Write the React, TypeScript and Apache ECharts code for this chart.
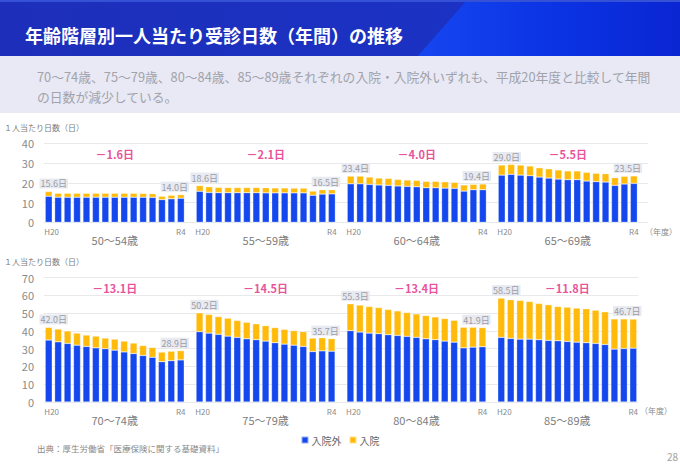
import React, { useEffect, useRef } from "react";
import * as echarts from "echarts";

// ---- data ----
const years = ["H20", "H21", "H22", "H23", "H24", "H25", "H26", "H27", "H28", "H29", "H30", "R1", "R2", "R3", "R4"];
const topGroups = ["50～54歳", "55～59歳", "60～64歳", "65～69歳"];
const bottomGroups = ["70～74歳", "75～79歳", "80～84歳", "85～89歳"];

// 入院外 (outpatient) / 入院 (inpatient), days per person per year
const out50_54 = [13.2, 12.7, 12.7, 12.7, 12.7, 12.7, 12.7, 12.7, 12.7, 12.7, 12.7, 12.6, 11.5, 11.9, 12.2];
const in50_54 = [2.4, 2.0, 2.0, 2.0, 2.0, 2.0, 2.0, 2.0, 2.0, 2.0, 1.9, 1.9, 1.7, 1.8, 1.8];
const out55_59 = [15.7, 15.1, 15.0, 15.0, 15.0, 15.0, 15.0, 14.9, 14.9, 14.9, 14.9, 14.9, 13.7, 14.3, 14.4];
const in55_59 = [2.9, 2.9, 2.7, 2.6, 2.6, 2.6, 2.6, 2.6, 2.5, 2.5, 2.4, 2.4, 2.1, 2.2, 2.1];
const out60_64 = [19.5, 19.5, 19.2, 18.9, 18.7, 18.4, 18.2, 18.0, 17.5, 17.5, 17.3, 17.2, 15.8, 16.5, 16.5];
const in60_64 = [3.9, 3.9, 3.7, 3.5, 3.5, 3.3, 3.2, 3.2, 3.2, 3.2, 3.2, 3.0, 3.1, 2.7, 2.9];
const out65_69 = [23.9, 24.3, 23.9, 23.6, 22.9, 22.4, 21.9, 21.6, 21.6, 20.9, 20.6, 20.4, 18.7, 19.4, 19.7];
const in65_69 = [5.1, 5.0, 5.1, 4.9, 4.7, 4.7, 4.6, 4.4, 4.4, 4.4, 4.2, 4.2, 3.9, 3.9, 3.8];
const out70_74 = [34.9, 33.9, 33.0, 32.0, 31.3, 30.5, 30.0, 29.2, 28.2, 27.3, 26.2, 25.2, 22.7, 23.3, 23.7];
const in70_74 = [7.1, 7.2, 7.0, 6.8, 6.4, 6.6, 6.0, 6.2, 6.1, 5.9, 5.6, 5.5, 5.4, 5.3, 5.2];
const out75_79 = [39.6, 38.8, 38.1, 37.1, 36.4, 35.6, 35.1, 34.3, 33.4, 32.6, 32.0, 31.3, 28.4, 28.8, 28.6];
const in75_79 = [10.6, 10.5, 10.0, 10.1, 9.5, 9.3, 8.9, 8.7, 8.5, 8.3, 8.2, 8.3, 7.6, 7.4, 7.1];
const out80_84 = [40.2, 39.4, 38.8, 38.5, 37.9, 37.5, 37.0, 36.4, 35.6, 35.1, 34.3, 33.7, 30.5, 30.9, 31.1];
const in80_84 = [15.1, 15.2, 15.0, 14.7, 14.2, 13.8, 13.4, 13.2, 13.1, 12.8, 12.7, 12.3, 11.6, 11.2, 10.8];
const out85_89 = [36.4, 35.8, 35.4, 35.4, 35.1, 34.7, 34.5, 34.1, 33.7, 33.4, 33.0, 32.4, 29.8, 30.1, 30.3];
const in85_89 = [22.1, 21.8, 21.8, 21.2, 20.4, 20.1, 19.3, 19.3, 19.2, 19.1, 18.7, 18.4, 17.0, 16.7, 16.4];

const topOut = [out50_54, out55_59, out60_64, out65_69];
const topIn = [in50_54, in55_59, in60_64, in65_69];
const bottomOut = [out70_74, out75_79, out80_84, out85_89];
const bottomIn = [in70_74, in75_79, in80_84, in85_89];

const topTicks = [0, 10, 20, 30, 40];
const bottomTicks = [0, 10, 20, 30, 40, 50, 60, 70];

const TITLE = "年齢階層別一人当たり受診日数（年間）の推移";
const SUBTITLE = "70～74歳、75～79歳、80～84歳、85～89歳それぞれの入院・入院外いずれも、平成20年度と比較して年間\nの日数が減少している。";
const Y_TITLE = "１人当たり日数（日）";
const SOURCE = "出典：厚生労働省「医療保険に関する基礎資料」";
const PAGE = "28";
const YEAR_UNIT = "（年度）";

const BLUE = "#1448ee";
const YELLOW = "#ffba0a";
const PINK = "#e4237f";
const FONT = "'Noto Sans CJK JP', 'Noto Sans', sans-serif";
const SLOT = 16; // 15 years + 1 gap

function buildCats(groups: string[], extra: number) {
  const cats: string[] = [];
  groups.forEach((g, gi) => {
    years.forEach((y) => cats.push(g + "-" + y));
    if (gi < groups.length - 1) cats.push("gap" + gi);
  });
  for (let i = 0; i < extra; i++) cats.push("end" + i);
  return cats;
}

function buildOut(outs: number[][], n: number) {
  const d: any[] = [];
  outs.forEach((arr, gi) => {
    arr.forEach((v) => d.push(v));
    if (gi < outs.length - 1) d.push("-");
  });
  while (d.length < n) d.push("-");
  return d;
}

function buildIn(outs: number[][], ins: number[][], n: number) {
  const d: any[] = [];
  ins.forEach((arr, gi) => {
    arr.forEach((v, i) => {
      if (i === 0 || i === arr.length - 1) {
        const total = (outs[gi][i] + v).toFixed(1) + "日";
        d.push({
          value: v,
          label: {
            show: true,
            position: "top",
            distance: 3,
            offset: [i === 0 ? 5 : -6, 0],
            formatter: total,
            color: "#9c9ca4",
            fontSize: 9,
            fontFamily: FONT,
            backgroundColor: "#e8eaf2",
            padding: [1, 1, 0, 1],
          },
        });
      } else d.push(v);
    });
    if (gi < ins.length - 1) d.push("-");
  });
  while (d.length < n) d.push("-");
  return d;
}

function buildDelta(outs: number[][], ins: number[][], yPos: number) {
  return outs.map((arr, gi) => {
    const first = arr[0] + ins[gi][0];
    const last = arr[arr.length - 1] + ins[gi][arr.length - 1];
    return { value: [gi * SLOT + 7, yPos], name: "－" + (first - last).toFixed(1) + "日" };
  });
}

export default function App() {
  const ref = useRef<HTMLDivElement>(null);
  useEffect(() => {
    if (!ref.current) return;
    const chart = echarts.init(ref.current, undefined, { renderer: "svg" });
    const catsTop = buildCats(topGroups, 1);
    const catsBottom = buildCats(bottomGroups, 0);

    const yearLabel = (v: string, idx: number) => {
      const k = idx % SLOT;
      if (k === 0) return "{h|" + years[0] + "}";
      if (k === years.length - 1) return "{r|" + years[years.length - 1] + "}";
      return "";
    };
    const groupLabel = (groups: string[]) => (v: string, idx: number) =>
      idx % SLOT === 7 ? groups[Math.floor(idx / SLOT)] : "";

    const yearAxis = (gi: number, cats: string[]) => ({
      type: "category",
      gridIndex: gi,
      data: cats,
      axisLine: { show: false },
      axisTick: { show: false },
      axisLabel: {
        interval: 0,
        margin: 5,
        formatter: yearLabel,
        rich: {
          h: { fontSize: 8, color: "#8a8a8a", fontFamily: FONT, padding: [0, 0, 0, 6] },
          r: { fontSize: 8, color: "#8a8a8a", fontFamily: FONT },
        },
      },
    });
    const ageAxis = (gi: number, cats: string[], groups: string[]) => ({
      type: "category",
      gridIndex: gi,
      data: cats,
      position: "bottom",
      axisLine: { show: false },
      axisTick: { show: false },
      axisLabel: { interval: 0, margin: 12, fontSize: 11, color: "#7c7c7c", fontFamily: FONT, formatter: groupLabel(groups) },
    });
    const valAxis = (gi: number, ticks: number[]) => ({
      type: "value",
      gridIndex: gi,
      min: ticks[0],
      max: ticks[ticks.length - 1],
      interval: ticks[1] - ticks[0],
      axisLine: { show: false },
      axisTick: { show: false },
      axisLabel: { margin: 10, fontSize: 11, color: "#8a8a8a", fontFamily: FONT },
      splitLine: { lineStyle: { color: "#e9e9ec", width: 1 } },
    });
    const barStyle = (c: string) => ({ color: c, borderColor: "rgba(255,255,255,0.55)", borderWidth: 0.5 });

    const option: any = {
      animation: false,
      textStyle: { fontFamily: FONT },
      grid: [
        { left: 44, top: 143.3, width: 604, height: 79 },
        { left: 44, top: 277.7, width: 594, height: 124.3 },
      ],
      xAxis: [
        yearAxis(0, catsTop),
        ageAxis(0, catsTop, topGroups),
        yearAxis(1, catsBottom),
        ageAxis(1, catsBottom, bottomGroups),
      ],
      yAxis: [valAxis(0, topTicks), valAxis(1, bottomTicks)],
      legend: {
        data: ["入院外", "入院"],
        left: "center",
        top: 435,
        icon: "rect",
        itemWidth: 7,
        itemHeight: 7,
        itemGap: 7,
        padding: 0,
        textStyle: { fontSize: 10, color: "#666", fontFamily: FONT, padding: [0, 0, 0, -2] },
      },
      series: [
        { name: "入院外", type: "bar", stack: "t", xAxisIndex: 0, yAxisIndex: 0, barWidth: 7, itemStyle: barStyle(BLUE), data: buildOut(topOut, catsTop.length) },
        { name: "入院", type: "bar", stack: "t", xAxisIndex: 0, yAxisIndex: 0, barWidth: 7, itemStyle: barStyle(YELLOW), data: buildIn(topOut, topIn, catsTop.length) },
        { name: "入院外", type: "bar", stack: "b", xAxisIndex: 2, yAxisIndex: 1, barWidth: 7, itemStyle: barStyle(BLUE), data: buildOut(bottomOut, catsBottom.length) },
        { name: "入院", type: "bar", stack: "b", xAxisIndex: 2, yAxisIndex: 1, barWidth: 7, itemStyle: barStyle(YELLOW), data: buildIn(bottomOut, bottomIn, catsBottom.length) },
        {
          type: "scatter", xAxisIndex: 0, yAxisIndex: 0, symbolSize: 1, silent: true,
          itemStyle: { color: "rgba(0,0,0,0)" },
          label: { show: true, position: "inside", formatter: "{b}", color: PINK, fontSize: 11, fontWeight: "bold", fontFamily: FONT },
          data: buildDelta(topOut, topIn, 34.5),
        },
        {
          type: "scatter", xAxisIndex: 2, yAxisIndex: 1, symbolSize: 1, silent: true,
          itemStyle: { color: "rgba(0,0,0,0)" },
          label: { show: true, position: "inside", formatter: "{b}", color: PINK, fontSize: 11, fontWeight: "bold", fontFamily: FONT },
          data: buildDelta(bottomOut, bottomIn, 64.4),
        },
      ],
      graphic: [
        {
          type: "rect", z: 0, shape: { x: 0, y: 0, width: 680, height: 56 },
          style: { fill: new echarts.graphic.LinearGradient(0, 0, 1, 0, [{ offset: 0, color: "#1d2fba" }, { offset: 1, color: "#1a33c8" }]) },
        },
        {
          type: "polygon", z: 0, shape: { points: [[467, 0], [680, 0], [680, 56], [418, 56]] },
          style: { fill: new echarts.graphic.LinearGradient(0, 0, 1, 0, [{ offset: 0, color: "#1646f0" }, { offset: 0.5, color: "#0b34e4" }, { offset: 1, color: "#0a26d2" }]) },
        },
        { type: "rect", z: 0, shape: { x: 0, y: 0, width: 680, height: 2 }, style: { fill: "#3552d6" } },
        { type: "rect", z: 0, shape: { x: 0, y: 56, width: 680, height: 57 }, style: { fill: "#e8e9f5" } },
        {
          type: "text", z: 1, x: 25, y: 35,
          style: { text: TITLE, fill: "#ffffff", fontSize: 18, fontWeight: "bold", fontFamily: FONT, verticalAlign: "middle" },
        },
        {
          type: "text", z: 1, x: 37, y: 67,
          style: { text: SUBTITLE, fill: "#a2a2aa", fontSize: 12.8, lineHeight: 19.5, fontFamily: FONT, verticalAlign: "top" },
        },
        { type: "text", z: 1, x: 4, y: 127.5, style: { text: Y_TITLE, fill: "#7a7a7a", fontSize: 8, fontFamily: FONT, verticalAlign: "middle" } },
        { type: "text", z: 1, x: 4, y: 261.7, style: { text: Y_TITLE, fill: "#7a7a7a", fontSize: 8, fontFamily: FONT, verticalAlign: "middle" } },
        { type: "text", z: 1, x: 645, y: 231, style: { text: YEAR_UNIT, fill: "#8a8a8a", fontSize: 8, fontFamily: FONT, verticalAlign: "middle" } },
        { type: "text", z: 1, x: 640, y: 410, style: { text: YEAR_UNIT, fill: "#8a8a8a", fontSize: 8, fontFamily: FONT, verticalAlign: "middle" } },
        { type: "text", z: 1, x: 37, y: 448, style: { text: SOURCE, fill: "#888888", fontSize: 8.5, fontFamily: FONT, verticalAlign: "middle" } },
        { type: "text", z: 1, x: 678, y: 456, style: { text: PAGE, fill: "#a0a0a0", fontSize: 10, fontFamily: FONT, verticalAlign: "middle", align: "right" } },
      ],
    };
    chart.setOption(option);
    return () => chart.dispose();
  }, []);
  return (
    <div
      ref={ref}
      style={{ position: "fixed", left: 0, top: 0, width: 680, height: 471, background: "#ffffff" }}
    />
  );
}
